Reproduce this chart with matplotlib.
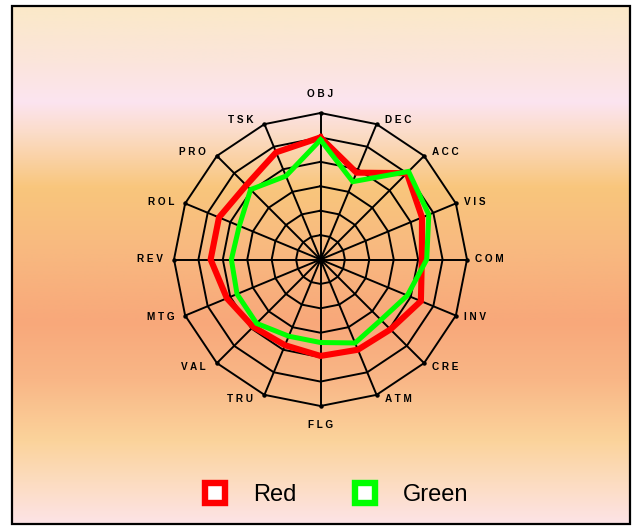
import numpy as np
import matplotlib
matplotlib.use("Agg")
import matplotlib.pyplot as plt
from matplotlib.colors import to_rgb
from matplotlib.lines import Line2D
from matplotlib.patches import Rectangle

categories = ['OBJ', 'DEC', 'ACC', 'VIS', 'COM', 'INV', 'CRE', 'ATM',
              'FLG', 'TRU', 'VAL', 'MTG', 'REV', 'ROL', 'PRO', 'TSK']
red_values = [5.0, 3.85, 5.0, 4.5, 4.15, 4.45, 4.05, 4.0,
              3.95, 3.8, 3.9, 4.15, 4.5, 4.5, 4.3, 4.75]
green_values = [4.9, 3.45, 5.1, 4.8, 4.35, 3.85, 3.5, 3.7,
                3.4, 3.4, 3.7, 3.7, 3.65, 3.6, 4.05, 3.7]
ring_levels = [1, 2, 3, 4, 5, 6]

W, H = 635, 527
fig = plt.figure(figsize=(W / 100, H / 100), dpi=100)
fig.patch.set_facecolor('white')

# background gradient inside the frame
fx0, fy0, fx1, fy1 = 12, 6, 630, 524
stops = [(0.00, '#fbe9c8'), (0.11, '#fbe5dc'), (0.185, '#fce4f0'),
         (0.245, '#fbdcc8'), (0.35, '#f9c67c'), (0.47, '#f8b980'),
         (0.61, '#f8a87a'), (0.72, '#f9b686'), (0.84, '#fbd39b'),
         (0.92, '#fcdcc0'), (1.00, '#fde3e6')]
pos = np.linspace(0, 1, 400)
cols = np.array([to_rgb(c) for _, c in stops])
sp = [s for s, _ in stops]
grad = np.stack([np.interp(pos, sp, cols[:, k]) for k in range(3)], axis=1)
ax_bg = fig.add_axes([fx0 / W, 1 - fy1 / H, (fx1 - fx0) / W, (fy1 - fy0) / H])
ax_bg.imshow(grad[:, None, :], aspect='auto', extent=(0, 1, 0, 1))
ax_bg.set_axis_off()
fig.add_artist(Rectangle((fx0 / W, 1 - fy1 / H), (fx1 - fx0) / W, (fy1 - fy0) / H,
                         transform=fig.transFigure, fill=False,
                         edgecolor='black', linewidth=1.6, zorder=5))

# radar axes
cx, cy, R = 320.5, 259.5, 146.5
ax = fig.add_axes([(cx - R) / W, 1 - (cy + R) / H, 2 * R / W, 2 * R / H],
                  projection='polar')
ax.patch.set_visible(False)
ax.set_theta_zero_location('N')
ax.set_theta_direction(-1)
ax.set_ylim(0, 6)
ax.grid(False)
ax.set_xticks([])
ax.set_yticks([])
ax.spines['polar'].set_visible(False)

n = len(categories)
theta = np.arange(n) * 2 * np.pi / n
theta_c = np.append(theta, theta[0])

for lv in ring_levels:
    ax.plot(theta_c, [lv] * (n + 1), color='black', lw=1.4, zorder=2, clip_on=False)
for t in theta:
    ax.plot([t, t], [0, ring_levels[-1]], color='black', lw=1.4, zorder=2, clip_on=False)
ax.plot(theta, [ring_levels[-1]] * n, 'o', color='black', ms=2.2, zorder=2, clip_on=False)
ax.plot([0], [0], 'o', color='black', ms=4, zorder=2)

ax.plot(theta_c, red_values + red_values[:1], color='#ff0000', lw=4.4,
        solid_joinstyle='miter', zorder=3, clip_on=False)
ax.plot(theta_c, green_values + green_values[:1], color='#00ff00', lw=3.6,
        solid_joinstyle='miter', zorder=4, clip_on=False)

for t, lab in zip(theta, categories):
    s, c = np.sin(t), np.cos(t)
    txt = ' '.join(lab)
    if abs(s) < 0.05:
        ha, va = 'center', ('bottom' if c > 0 else 'top')
        dx, dy = 0, 14 * np.sign(c)
    else:
        ha = 'left' if s > 0 else 'right'
        va = 'center'
        dx = 8 if s > 0 else -11
        dy = 5 * c
    ax.annotate(txt, xy=(t, ring_levels[-1]), xytext=(dx, dy),
                textcoords='offset pixels', ha=ha, va=va,
                fontsize=7.2, fontweight='bold', family='Liberation Sans',
                color='black', annotation_clip=False)

handles = [Line2D([], [], marker='s', linestyle='none', ms=14, mfc='white',
                  mec='#ff0000', mew=4.6),
           Line2D([], [], marker='s', linestyle='none', ms=14, mfc='white',
                  mec='#00ff00', mew=4.6)]
fig.legend(handles, ['Red', 'Green'], loc='center',
           bbox_to_anchor=(336 / W, 1 - 495 / H), ncol=2, frameon=False,
           handlelength=1.0, handletextpad=1.1, columnspacing=2.4,
           prop={'family': 'Liberation Sans', 'size': 17})

fig.savefig('out.png', dpi=100)
